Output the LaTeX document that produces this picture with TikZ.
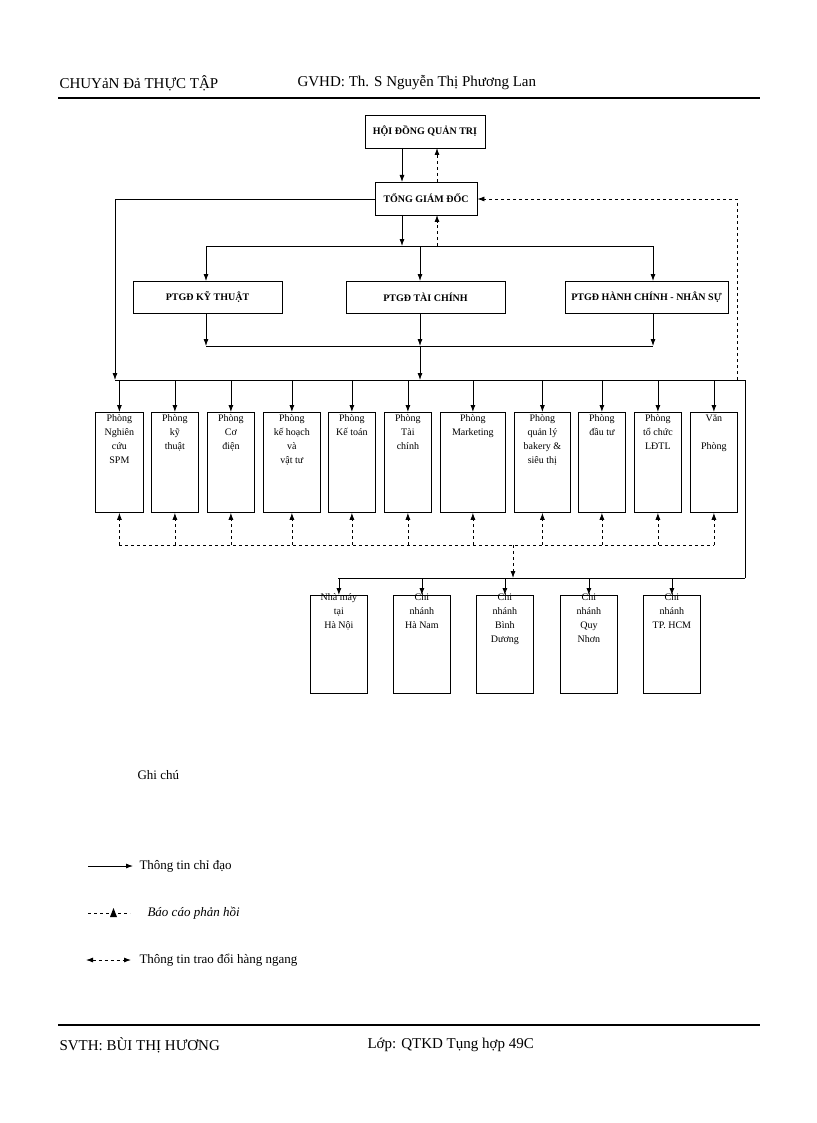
\documentclass[tikz,border=0pt]{standalone}
\usepackage{fontspec}
\setmainfont{Liberation Serif}
\usetikzlibrary{arrows.meta}
\begin{document}
\begin{tikzpicture}[x=1pt,y=-1pt,
 box/.style={draw,thick,fill=white,inner sep=0pt,align=center,font=\fontsize{10}{12}\selectfont},
 dept/.style={box,anchor=north west,minimum height=100pt},
 ln/.style={line width=0.8pt},
 arr/.style={ln,-{Latex[length=7pt,width=5pt]}},
 dsh/.style={ln,dashed},
 darr/.style={ln,dashed,-{Latex[length=7pt,width=5pt]}},
 hdr/.style={anchor=west,font=\fontsize{15}{17}\selectfont},
 lg/.style={anchor=west,font=\fontsize{13}{15}\selectfont},
 bt/.style={anchor=north,align=center,inner sep=2pt,font=\fontsize{10}{14}\selectfont}]
\useasboundingbox (0,0) rectangle (816,1123);
% header/footer
\node[hdr] (h1) at (56,83) {CHUYảN Đả THỰC TẬP};
\node[hdr] (h2) at (294,83) {GVHD: Th. S Nguyễn Thị Phương Lan};
\draw[line width=1.2pt] (58,98) -- (760,98);
\draw[line width=1.2pt] (58,1025) -- (760,1025);
\node[hdr] (f1) at (56,1045) {SVTH: BÙI THỊ HƯƠNG};
\node[hdr] (f2) at (364,1045) {Lớp: QTKD Tụng hợp 49C};
% top
\node[box,minimum width=120pt,minimum height=33pt] (hd) at (425,131.5) {\textbf{HỘI ĐỒNG QUẢN TRỊ}};
\node[box,minimum width=102pt,minimum height=33pt] (tgd) at (426,198.5) {\textbf{TỔNG GIÁM ĐỐC}};
\draw[arr] (402,148) -- (402,182);
\draw[darr] (437,182) -- (437,148);
\node[box,minimum width=149pt,minimum height=32pt] (p1) at (207.5,297) {\textbf{PTGĐ KỸ THUẬT}};
\node[box,minimum width=159pt,minimum height=32pt] (p2) at (425.5,297) {\textbf{PTGĐ TÀI CHÍNH}};
\node[box,minimum width=163pt,minimum height=32pt] (p3) at (646.5,297) {\textbf{PTGĐ HÀNH CHÍNH - NHÂN SỰ}};
\coordinate (b1) at (402,246);
\draw[arr] (402,215) -- (b1);
\draw[darr] (437,246) -- (437,215);
\draw[ln] (206,246) -- (653,246);
\draw[arr] (206,246) -- (206,281);
\draw[arr] (420,246) -- (420,281);
\draw[arr] (653,246) -- (653,281);
\draw[arr] (206,313) -- (206,346);
\draw[arr] (420,313) -- (420,346);
\draw[arr] (653,313) -- (653,346);
\draw[ln] (206,346) -- (653,346);
\draw[arr] (420,346) -- (420,380);
\draw[arr] (tgd.west |- 0,199) -- (115,199) -- (115,380);
\draw[darr] (737,380) -- (737,199) -- (tgd.east |- 0,199);
% departments
\draw[ln] (115,380) -- (745,380) -- (745,578);
\foreach \n/\x/\w/\t in {d1/95/48/{Phòng\\Nghiên\\cứu\\SPM},d2/151/47/{Phòng\\kỹ\\thuật},d3/207/47/{Phòng\\Cơ\\điện},d4/263/57/{Phòng\\kế hoạch\\và\\vật tư},d5/328/47/{Phòng\\Kế toán},d6/384/47/{Phòng\\Tài\\chính},d7/440/65/{Phòng\\Marketing},d8/514/56/{Phòng\\quản lý\\bakery \&\\siêu thị},d9/578/47/{Phòng\\đầu tư},d10/634/47/{Phòng\\tổ chức\\LĐTL},d11/690/47/{Văn\\\\Phòng}}{
 \node[dept,minimum width=\w pt] (\n) at (\x,412) {};
 \node[bt] (\n t) at (\n.north) {\t};
 \draw[arr] (\n.north |- 0,380) -- (\n.north);
 \draw[darr] (\n.south |- 0,545) -- (\n.south);
}
\draw[dsh] (d1.south |- 0,545) -- (d11.south |- 0,545);
\draw[darr] (513,545) -- (513,578);
% branches
\draw[ln] (338,578) -- (745,578);
\foreach \n/\x/\t in {c1/310/{Nhà máy\\tại\\Hà Nội},c2/393/{Chi\\nhánh\\Hà Nam},c3/476/{Chi\\nhánh\\Bình\\Dương},c4/560/{Chi\\nhánh\\Quy\\Nhơn},c5/643/{Chi\\nhánh\\TP. HCM}}{
 \node[dept,minimum width=57pt,minimum height=98pt] (\n) at (\x,595) {};
 \node[bt] (\n t) at ([yshift=4pt]\n.north) {\t};
 \draw[arr] (\n.north |- 0,578) -- (\n.north);
}
% legend
\node[lg] (g) at (134,775) {Ghi chú};
\coordinate (l1a) at (88,866); \coordinate (l1b) at (133,866);
\draw[arr] (l1a) -- (l1b);
\node[lg] (t1) at (136,866) {Thông tin chỉ đạo};
\coordinate (l2a) at (88,913); \coordinate (l2b) at (130,913);
\draw[dsh] (l2a) -- (l2b);
\fill (110,917) -- (117,917) -- (113.5,908) -- cycle;
\node[lg,font=\itshape\fontsize{13}{15}\selectfont] (t2) at (144,913) {Báo cáo phản hồi};
\coordinate (l3a) at (86,960); \coordinate (l3b) at (131,960);
\draw[dsh,{Latex[length=7pt,width=5pt]}-{Latex[length=7pt,width=5pt]}] (l3a) -- (l3b);
\node[lg] (t3) at (136,960) {Thông tin trao đổi hàng ngang};
\end{tikzpicture}
\end{document}
